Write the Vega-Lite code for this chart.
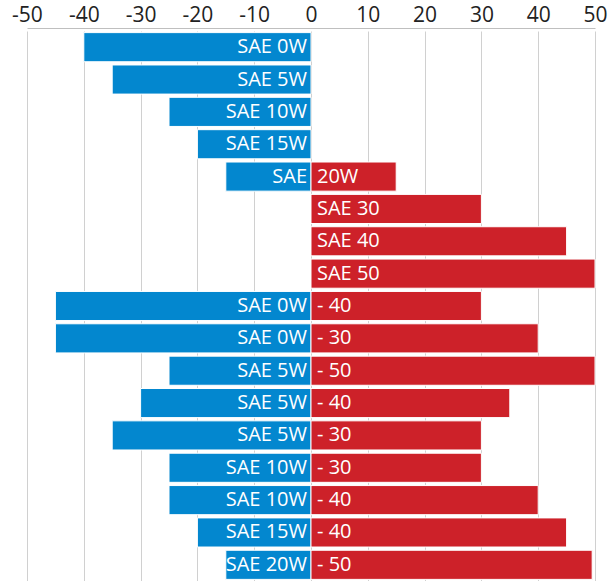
{
  "$schema": "https://vega.github.io/schema/vega-lite/v6.json",
  "width": 568,
  "height": 550,
  "autosize": {"type": "none"},
  "padding": {"left": 27, "top": 31, "right": 15, "bottom": 0},
  "background": "white",
  "config": {"view": {"stroke": null}, "font": "Open Sans"},
  "data": {
    "values": [
      {"row": 1, "side": "cold", "value": -40, "label": "SAE 0W"},
      {"row": 2, "side": "cold", "value": -35, "label": "SAE 5W"},
      {"row": 3, "side": "cold", "value": -25, "label": "SAE 10W"},
      {"row": 4, "side": "cold", "value": -20, "label": "SAE 15W"},
      {"row": 5, "side": "cold", "value": -15, "label": "SAE"},
      {"row": 5, "side": "hot", "value": 15, "label": "20W"},
      {"row": 6, "side": "hot", "value": 30, "label": "SAE 30"},
      {"row": 7, "side": "hot", "value": 45, "label": "SAE 40"},
      {"row": 8, "side": "hot", "value": 50, "label": "SAE 50"},
      {"row": 9, "side": "cold", "value": -45, "label": "SAE 0W"},
      {"row": 9, "side": "hot", "value": 30, "label": "- 40"},
      {"row": 10, "side": "cold", "value": -45, "label": "SAE 0W"},
      {"row": 10, "side": "hot", "value": 40, "label": "- 30"},
      {"row": 11, "side": "cold", "value": -25, "label": "SAE 5W"},
      {"row": 11, "side": "hot", "value": 50, "label": "- 50"},
      {"row": 12, "side": "cold", "value": -30, "label": "SAE 5W"},
      {"row": 12, "side": "hot", "value": 35, "label": "- 40"},
      {"row": 13, "side": "cold", "value": -35, "label": "SAE 5W"},
      {"row": 13, "side": "hot", "value": 30, "label": "- 30"},
      {"row": 14, "side": "cold", "value": -25, "label": "SAE 10W"},
      {"row": 14, "side": "hot", "value": 30, "label": "- 30"},
      {"row": 15, "side": "cold", "value": -25, "label": "SAE 10W"},
      {"row": 15, "side": "hot", "value": 40, "label": "- 40"},
      {"row": 16, "side": "cold", "value": -20, "label": "SAE 15W"},
      {"row": 16, "side": "hot", "value": 45, "label": "- 40"},
      {"row": 17, "side": "cold", "value": -15, "label": "SAE 20W"},
      {"row": 17, "side": "hot", "value": 49.5, "label": "- 50"}
    ]
  },
  "encoding": {
    "y": {
      "field": "row",
      "type": "ordinal",
      "axis": null,
      "scale": {"paddingInner": 0.1, "paddingOuter": 0.05}
    }
  },
  "layer": [
    {
      "mark": {"type": "bar", "stroke": "white", "strokeWidth": 1},
      "encoding": {
        "x": {
          "field": "value",
          "type": "quantitative",
          "scale": {"domain": [-50, 50], "nice": false},
          "axis": {
            "orient": "top",
            "offset": 3,
            "values": [-50, -45, -40, -35, -30, -25, -20, -15, -10, -5, 0, 5, 10, 15, 20, 25, 30, 35, 40, 45, 50],
            "labelExpr": "datum.value % 10 == 0 ? toString(datum.value) : ''",
            "grid": true,
            "gridColor": "#d0d0d0",
            "gridWidth": 1,
            "gridOpacity": {"condition": {"test": "datum.value % 10 != 0", "value": 0}, "value": 1},
            "ticks": true,
            "tickSize": 28,
            "tickColor": {"condition": {"test": "datum.value % 10 == 0", "value": "#ffffff"}, "value": "#a8a8a8"},
            "tickWidth": 1.2,
            "domain": true,
            "domainColor": "#bfbfbf",
            "labelFontSize": 21,
            "labelColor": "#222222",
            "labelFont": "Open Sans",
            "labelPadding": -25,
            "labelFlush": false,
            "labelOverlap": false,
            "title": null
          }
        },
        "color": {
          "field": "side",
          "type": "nominal",
          "scale": {"domain": ["cold", "hot"], "range": ["#0387CF", "#CD2129"]},
          "legend": null
        }
      }
    },
    {
      "transform": [{"filter": "datum.side == 'cold'"}],
      "mark": {"type": "text", "align": "right", "baseline": "middle", "dx": -4, "color": "white", "fontSize": 20, "font": "Open Sans"},
      "encoding": {
        "x": {"datum": 0, "type": "quantitative"},
        "text": {"field": "label"}
      }
    },
    {
      "transform": [{"filter": "datum.side == 'hot'"}],
      "mark": {"type": "text", "align": "left", "baseline": "middle", "dx": 6, "color": "white", "fontSize": 20, "font": "Open Sans"},
      "encoding": {
        "x": {"datum": 0, "type": "quantitative"},
        "text": {"field": "label"}
      }
    }
  ]
}
